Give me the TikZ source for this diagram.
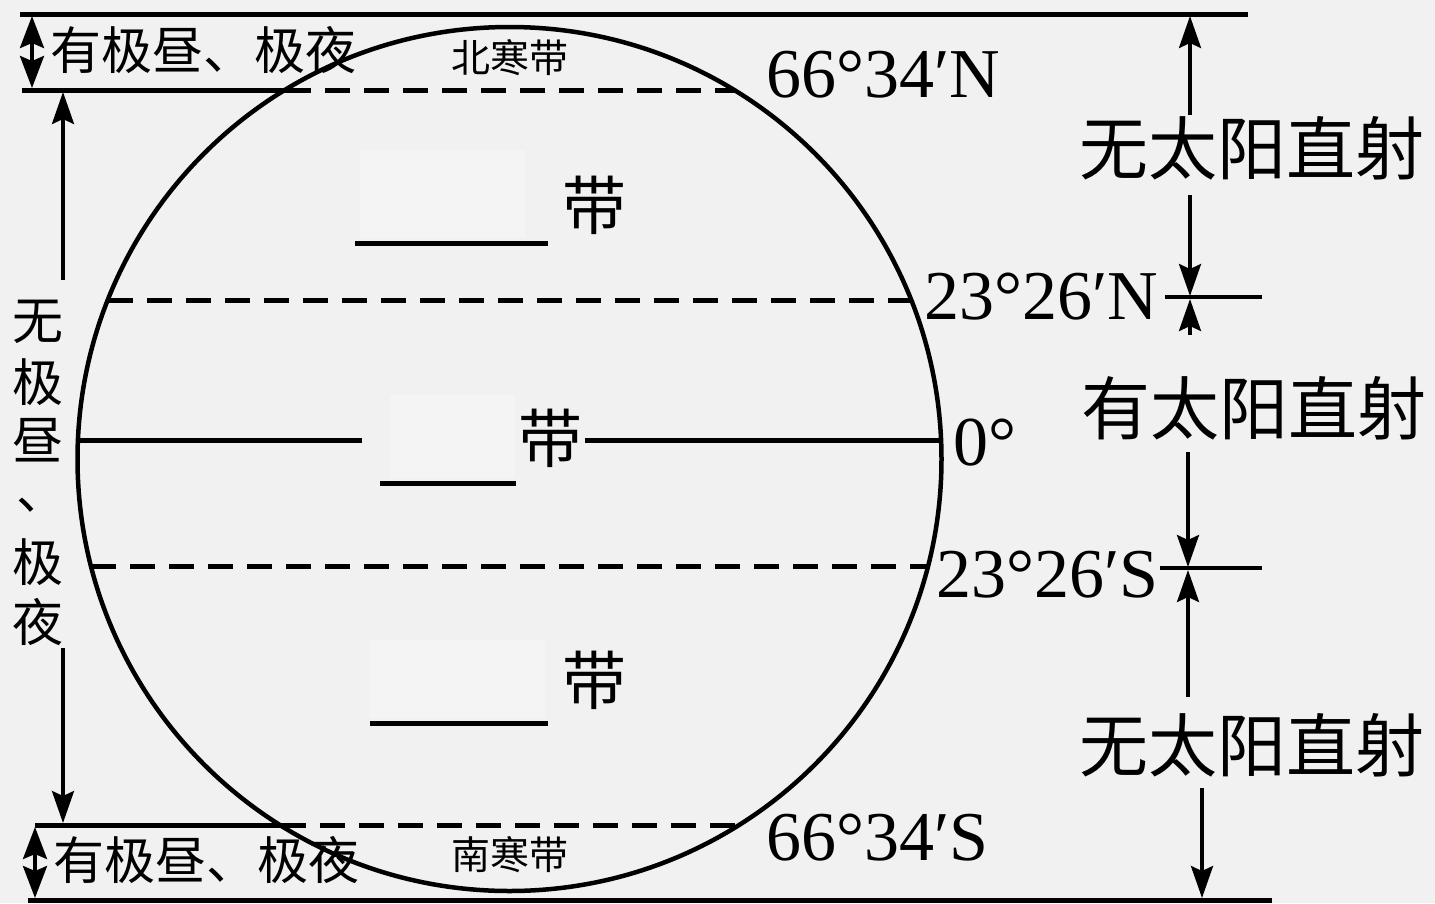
\documentclass[tikz,border=0pt]{standalone}
\usepackage{fontspec}
\setmainfont{Liberation Serif}
\newfontfamily\cjk{Noto Sans CJK SC}
\usetikzlibrary{arrows.meta}
\definecolor{paper}{RGB}{241,241,241}
\definecolor{blank}{RGB}{244,244,244}
\tikzset{
  ln/.style={line width=5pt},
  dsh/.style={line width=5pt, dash pattern=on 25pt off 14pt},
  arr/.style={line width=3.5pt, -{Stealth[length=32pt,width=22pt,inset=5pt]}},
  darr/.style={line width=3.5pt, {Stealth[length=32pt,width=24pt,inset=5pt]}-{Stealth[length=32pt,width=24pt,inset=5pt]}},
  lbl/.style={inner sep=0pt, font=\cjk\fontsize{51}{53}\selectfont},
  big/.style={inner sep=0pt, font=\cjk\fontsize{69}{72}\selectfont},
  num/.style={inner sep=0pt, font=\fontsize{70}{72}\selectfont},
  small/.style={inner sep=0pt, font=\cjk\fontsize{39}{41}\selectfont},
  zone/.style={inner sep=0pt, font=\cjk\fontsize{64}{66}\selectfont},
}
\begin{document}
\begin{tikzpicture}[x=1pt,y=-1pt]
\fill[paper] (0,0) rectangle (1435,903);
\useasboundingbox (0,0) rectangle (1435,903);
% blanked answer boxes
\fill[blank] (360,150) rectangle (525,238);
\fill[blank] (390,395) rectangle (515,478);
\fill[blank] (370,640) rectangle (545,718);

% earth
\node[circle, draw, line width=4.5pt, minimum size=864pt, inner sep=0pt] (earth) at (509.5,459) {};

% horizontal lines
\coordinate (t1) at (20,14);   \coordinate (t2) at (1248,14);
\coordinate (an1) at (22,90);  \coordinate (an2) at (286,90); \coordinate (an3) at (735,90);
\coordinate (tn1) at (108,300); \coordinate (tn2) at (912,300);
\coordinate (eq1) at (77,440); \coordinate (eq2) at (362,440);
\coordinate (eq3) at (585,440); \coordinate (eq4) at (942,440);
\coordinate (ts1) at (91,566); \coordinate (ts2) at (928,566);
\coordinate (as1) at (35,825); \coordinate (as2) at (281,825); \coordinate (as3) at (740,825);
\coordinate (b1) at (28,900); \coordinate (b2) at (1272,900);

\draw[ln] (t1) -- (t2);
\draw[ln] (an1) -- (an2);
\draw[dsh] (an2) -- (an3);
\draw[dsh] (tn1) -- (tn2);
\draw[ln] (eq1) -- (eq2);
\draw[ln] (eq3) -- (eq4);
\draw[dsh] (ts1) -- (ts2);
\draw[ln] (as1) -- (as2);
\draw[dsh] (as2) -- (as3);
\draw[ln] (b1) -- (b2);

% answer blanks
\coordinate (u1a) at (355,243); \coordinate (u1b) at (548,243);
\coordinate (u2a) at (380,483); \coordinate (u2b) at (516,483);
\coordinate (u3a) at (370,723); \coordinate (u3b) at (548,723);
\draw[ln] (u1a) -- (u1b);
\draw[ln] (u2a) -- (u2b);
\draw[ln] (u3a) -- (u3b);

% zone labels
\node[zone] (z1) at (594,205) {带};
\node[zone] (z2) at (550,438) {带};
\node[zone] (z3) at (594,680) {带};
\node[small] (nh) at (510,58) {北寒带};
\node[small] (sh) at (510,855) {南寒带};

% latitude labels
\node[num, anchor=west] (l1) at (766,75) {66°34′N};
\node[num, anchor=west] (l2) at (924,297) {23°26′N};
\node[num, anchor=west] (l3) at (953,443) {0°};
\node[num, anchor=west] (l4) at (936,575) {23°26′S};
\node[num, anchor=west] (l5) at (766,838) {66°34′S};

% left labels
\node[lbl] (pt) at (203,50) {有极昼、极夜};
\node[lbl] (pb) at (206,860) {有极昼、极夜};
\node[lbl] (v1) at (38,322) {无};
\node[lbl] (v2) at (38,382) {极};
\node[lbl] (v3) at (38,440) {昼};
\node[lbl] (v4) at (42,505) {、};
\node[lbl] (v5) at (38,562) {极};
\node[lbl] (v6) at (38,622) {夜};

% left arrows
\coordinate (dl1) at (32,16); \coordinate (dl2) at (32,88);
\draw[darr] (dl1) -- (dl2);
\coordinate (dl3) at (35,827); \coordinate (dl4) at (35,898);
\draw[darr] (dl3) -- (dl4);
\coordinate (la1) at (63,280); \coordinate (la2) at (63,92);
\coordinate (la3) at (63,648); \coordinate (la4) at (63,823);
\draw[arr] (la1) -- (la2);
\draw[arr] (la3) -- (la4);

% right labels
\node[big] (r1) at (1252,148) {无太阳直射};
\node[big] (r2) at (1254,408) {有太阳直射};
\node[big] (r3) at (1252,745) {无太阳直射};

% right ticks
\coordinate (k1a) at (1165,297); \coordinate (k1b) at (1262,297);
\coordinate (k2a) at (1160,568); \coordinate (k2b) at (1262,568);
\draw[line width=4pt] (k1a) -- (k1b);
\draw[line width=4pt] (k2a) -- (k2b);

% right arrows
\coordinate (ra1) at (1190,115); \coordinate (ra1e) at (1190,16);
\coordinate (ra2) at (1190,195); \coordinate (ra2e) at (1190,296);
\coordinate (ra3) at (1190,335); \coordinate (ra3e) at (1190,299);
\coordinate (ra4) at (1188,452); \coordinate (ra4e) at (1188,567);
\coordinate (ra5) at (1188,697); \coordinate (ra5e) at (1188,570);
\coordinate (ra6) at (1202,788); \coordinate (ra6e) at (1202,898);
\draw[arr] (ra1) -- (ra1e);
\draw[arr] (ra2) -- (ra2e);
\draw[arr] (ra3) -- (ra3e);
\draw[arr] (ra4) -- (ra4e);
\draw[arr] (ra5) -- (ra5e);
\draw[arr] (ra6) -- (ra6e);
\end{tikzpicture}
\end{document}
